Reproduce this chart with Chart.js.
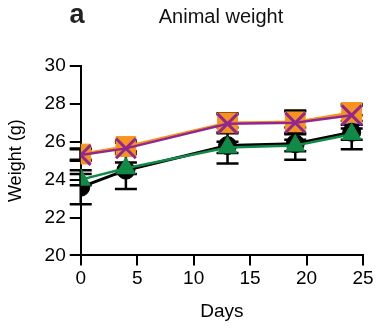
<!DOCTYPE html>
<html><head><meta charset="utf-8">
<script src="https://cdn.jsdelivr.net/npm/chart.js@4/dist/chart.umd.min.js"></script>
<style>html,body{margin:0;padding:0;background:#fff}</style>
</head><body>
<canvas id="c" width="380" height="329"></canvas>
<script>
const days = [0, 4, 13, 19, 24];
const blackMean  = [23.6, 24.5, 25.8, 25.9, 26.5];
const blackSD    = [0.9, 1.0, 0.95, 0.85, 0.9];
const greenMean  = [24.0, 24.6, 25.7, 25.8, 26.4];
const greenSD    = [0.3, 0.3, 0.3, 0.3, 0.3];
const orangeMean = [25.35, 25.75, 27.0, 27.05, 27.55];
const orangeSD   = [0.3, 0.3, 0.5, 0.6, 0.45];
const purpleMean = [25.3, 25.65, 26.95, 27.0, 27.4];
const purpleSD   = [0.3, 0.3, 0.5, 0.6, 0.5];
const yTicks = [20, 22, 24, 26, 28, 30];
const xTicks = [0, 5, 10, 15, 20, 25];

const FONT = "'Liberation Sans', Arial, sans-serif";
const pts = (m) => days.map((d, i) => ({x: d, y: m[i]}));

const errorBars = {
  id: 'errorBars',
  beforeDatasetsDraw(chart) {
    const {ctx, scales: {x, y}} = chart;
    ctx.save();
    ctx.strokeStyle = '#000';
    ctx.lineWidth = 2.5;
    chart.data.datasets.forEach(ds => {
      ds.sd.forEach((s, i) => {
        const px = x.getPixelForValue(days[i]);
        const top = y.getPixelForValue(ds.data[i].y + s);
        const bot = y.getPixelForValue(ds.data[i].y - s);
        ctx.beginPath();
        ctx.moveTo(px, top); ctx.lineTo(px, bot);
        ctx.moveTo(px - 11, top); ctx.lineTo(px + 11, top);
        ctx.moveTo(px - 11, bot); ctx.lineTo(px + 11, bot);
        ctx.stroke();
      });
    });
    ctx.restore();
  }
};

const titles = {
  id: 'titles',
  afterDraw(chart) {
    const ctx = chart.ctx;
    ctx.save();
    ctx.fillStyle = '#222';
    ctx.textBaseline = 'middle';
    ctx.textAlign = 'center';
    ctx.font = "bold 27px " + FONT;
    ctx.fillText('a', 77, 16);
    ctx.font = "20px " + FONT;
    ctx.fillStyle = '#111';
    ctx.fillText('Animal weight', 221, 17);
    ctx.restore();
  }
};

new Chart(document.getElementById('c'), {
  type: 'line',
  data: {
    datasets: [
      {label: 'black', data: pts(blackMean), sd: blackSD, borderColor: '#000', backgroundColor: '#000', order: 4,
       pointStyle: 'circle', pointRadius: 9, borderWidth: 3, pointBorderWidth: 1},
      {label: 'green', data: pts(greenMean), sd: greenSD, borderColor: '#0f8a47', backgroundColor: '#0f8a47', order: 3,
       pointStyle: 'triangle', pointRadius: 11, borderWidth: 2.5, pointBorderWidth: 1},
      {label: 'orange', data: pts(orangeMean), sd: orangeSD, borderColor: '#f7941d', backgroundColor: '#f7941d', order: 2,
       pointStyle: 'rect', pointRadius: 14, borderWidth: 2.5, pointBorderWidth: 1},
      {label: 'purple', data: pts(purpleMean), sd: purpleSD, borderColor: '#92278f', backgroundColor: '#92278f', order: 1,
       pointStyle: 'crossRot', pointRadius: 14, borderWidth: 2.5, pointBorderWidth: 3}
    ]
  },
  options: {
    responsive: false,
    animation: false,
    layout: {padding: {top: 66, right: 12, left: 1, bottom: 2}},
    plugins: {legend: {display: false}, tooltip: {enabled: false}},
    scales: {
      x: {
        type: 'linear', min: 0, max: 25,
        afterBuildTicks: s => { s.ticks = xTicks.map(v => ({value: v})); },
        grid: {drawOnChartArea: false, drawTicks: true, tickLength: 10, color: '#000', lineWidth: 2},
        border: {color: '#000', width: 2},
        ticks: {color: '#000', font: {family: FONT, size: 19}, padding: 2},
        title: {display: true, text: 'Days', color: '#000', font: {family: FONT, size: 19}, padding: {top: 8}}
      },
      y: {
        min: 20, max: 30,
        afterBuildTicks: s => { s.ticks = yTicks.map(v => ({value: v})); },
        grid: {drawOnChartArea: false, drawTicks: true, tickLength: 11, color: '#000', lineWidth: 2},
        border: {color: '#000', width: 2},
        ticks: {color: '#000', font: {family: FONT, size: 19}, padding: 4},
        title: {display: true, text: 'Weight (g)', color: '#000', font: {family: FONT, size: 18}, padding: {bottom: 14}}
      }
    }
  },
  plugins: [errorBars, titles]
});
</script>
</body></html>
